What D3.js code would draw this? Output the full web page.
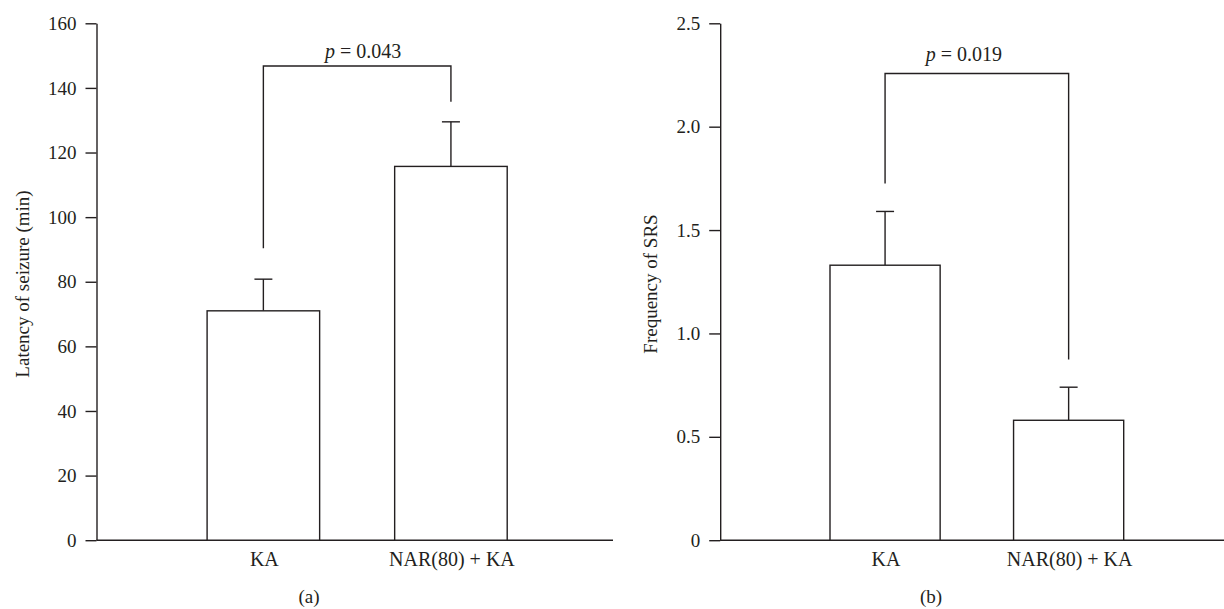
<!DOCTYPE html>
<html>
<head>
<meta charset="utf-8">
<script src="https://cdn.jsdelivr.net/npm/d3@7"></script>
<style>
  body { margin: 0; background: #fff; }
  svg text { font-family: "Liberation Serif", "Times New Roman", serif; fill: #231f20; }
</style>
</head>
<body>
<div id="chart"></div>
<script>
// data
const groups = ['KA', 'NAR(80) + KA'];

const latencyMean = [71.0, 115.7];
const latencyErr = [80.8, 129.5];      // top of error bar
const latencyTicks = [0, 20, 40, 60, 80, 100, 120, 140, 160];
const latencyBracket = [90.4, 146.8, 135.7];   // left leg end, top, right leg end

const srsMean = [1.33, 0.58];
const srsErr = [1.59, 0.74];
const srsTicks = [0, 0.5, 1.0, 1.5, 2.0, 2.5];
const srsBracket = [1.725, 2.257, 0.874];

const ink = '#231f20';
const W = 1224, H = 609;
const svg = d3.select('#chart').append('svg')
    .attr('width', W).attr('height', H);

const panels = [
    {
        means: latencyMean, errs: latencyErr, ticks: latencyTicks, bracket: latencyBracket,
        max: 160, fmt: d => d3.format('d')(d), label: 'Latency of seizure (min)',
        pText: '0.043', axisX: 96.5, xEnd: 613, band: [207.1, 507.2], labelX: 22, labelY: 284,
        pOffset: 6, pBase: 58, tag: '(a)', tagX: 309
    },
    {
        means: srsMean, errs: srsErr, ticks: srsTicks, bracket: srsBracket,
        max: 2.5, fmt: d => d === 0 ? '0' : d3.format('.1f')(d), label: 'Frequency of SRS',
        pText: '0.019', axisX: 720.2, xEnd: 1224, band: [830, 1123.7], labelX: 650, labelY: 284,
        pOffset: -13, pBase: 61, tag: '(b)', tagX: 931
    }
];

const plotTop = 23.3, plotBottom = 540.2;

panels.forEach(p => {
    const g = svg.append('g');
    const y = d3.scaleLinear().domain([0, p.max]).range([plotBottom, plotTop]);
    const x = d3.scaleBand().domain(groups).range(p.band).paddingInner(0.4).paddingOuter(0);
    const cx = d => x(d) + x.bandwidth() / 2;

    // y axis
    const yAxis = d3.axisLeft(y).tickValues(p.ticks).tickFormat(p.fmt)
        .tickSizeInner(11).tickSizeOuter(0).tickPadding(9);
    const ya = g.append('g').attr('transform', `translate(${p.axisX},0)`).call(yAxis);
    ya.select('.domain').attr('stroke', ink).attr('stroke-width', 1.4);
    ya.selectAll('.tick line').attr('stroke', ink).attr('stroke-width', 1.4);
    ya.selectAll('.tick text').style('font-size', '19px').attr('fill', ink)
        .style('font-family', '"Liberation Serif", serif');

    // baseline
    g.append('line')
        .attr('x1', p.axisX).attr('x2', p.xEnd)
        .attr('y1', y(0)).attr('y2', y(0))
        .attr('stroke', ink).attr('stroke-width', 1.4);

    // error bars (upper only)
    groups.forEach((d, i) => {
        g.append('line')
            .attr('x1', cx(d)).attr('x2', cx(d))
            .attr('y1', y(p.means[i])).attr('y2', y(p.errs[i]))
            .attr('stroke', ink).attr('stroke-width', 1.4);
        g.append('line')
            .attr('x1', cx(d) - 9).attr('x2', cx(d) + 9)
            .attr('y1', y(p.errs[i])).attr('y2', y(p.errs[i]))
            .attr('stroke', ink).attr('stroke-width', 1.4);
    });

    // bars
    g.selectAll('rect.bar')
        .data(groups)
        .enter()
        .append('rect')
        .attr('class', 'bar')
        .attr('x', d => x(d))
        .attr('width', x.bandwidth())
        .attr('y', (d, i) => y(p.means[i]))
        .attr('height', (d, i) => y(0) - y(p.means[i]))
        .attr('fill', '#fff')
        .attr('stroke', ink)
        .attr('stroke-width', 1.4);

    // significance bracket
    const b = p.bracket;
    const x0 = cx(groups[0]), x1 = cx(groups[1]);
    g.append('path')
        .attr('d', `M${x0},${y(b[0])}V${y(b[1])}H${x1}V${y(b[2])}`)
        .attr('fill', 'none').attr('stroke', ink).attr('stroke-width', 1.4);

    const pt = g.append('text')
        .attr('x', (x0 + x1) / 2 + p.pOffset)
        .attr('y', p.pBase)
        .attr('text-anchor', 'middle')
        .style('font-size', '20px');
    pt.append('tspan').style('font-style', 'italic').text('p');
    pt.append('tspan').text(' = ' + p.pText);

    // x labels
    g.selectAll('text.xl')
        .data(groups)
        .enter()
        .append('text')
        .attr('class', 'xl')
        .attr('x', d => cx(d) + 1)
        .attr('y', 566)
        .attr('text-anchor', 'middle')
        .style('font-size', '20px')
        .text(d => d);

    // y label
    g.append('text')
        .attr('transform', `translate(${p.labelX},${p.labelY}) rotate(-90)`)
        .attr('text-anchor', 'middle')
        .attr('dy', '0.35em')
        .style('font-size', '19px')
        .text(p.label);

    // panel tag
    g.append('text')
        .attr('x', p.tagX).attr('y', 603)
        .attr('text-anchor', 'middle')
        .style('font-size', '19px')
        .text(p.tag);
});
</script>
</body>
</html>
